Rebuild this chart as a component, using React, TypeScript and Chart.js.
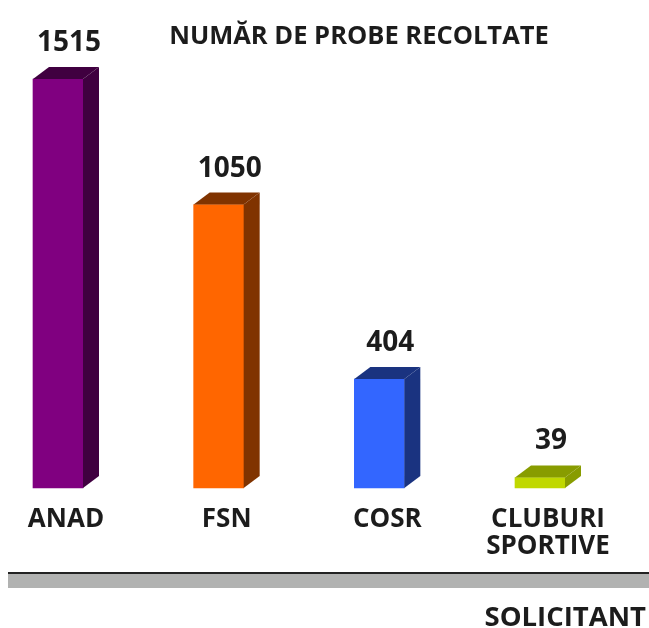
import React, { useEffect, useRef } from "react";
import { Chart, registerables } from "chart.js";

Chart.register(...registerables);

const categories: (string | string[])[] = ["ANAD", "FSN", "COSR", ["CLUBURI", "SPORTIVE"]];
const values: number[] = [1515, 1050, 404, 39];
const frontColors: string[] = ["#800080", "#FF6600", "#3366FF", "#C0D800"];
const darkColors: string[] = ["#400040", "#803300", "#1A3380", "#889C00"];
const chartTitle = "NUMĂR DE PROBE RECOLTATE";
const axisTitle = "SOLICITANT";

const FONT = "'Open Sans', 'DejaVu Sans', sans-serif";
const TEXT = "#1c1c1c";
const DX = 16;
const DY = 12;

const bar3dPlugin = {
  id: "bar3d",
  beforeDraw(chart: any) {
    const ctx = chart.ctx;
    ctx.save();
    ctx.fillStyle = "#B1B2B1";
    ctx.fillRect(8, 573, chart.width - 8, 15);
    ctx.fillStyle = "#222222";
    ctx.fillRect(8, 572, chart.width - 8, 2);
    ctx.restore();
  },
  afterDatasetsDraw(chart: any) {
    const ctx = chart.ctx;
    const meta = chart.getDatasetMeta(0);
    ctx.save();
    meta.data.forEach((el: any, i: number) => {
      const { x, y, base, width } = el.getProps(["x", "y", "base", "width"], true);
      const l = x - width / 2;
      const r = x + width / 2;
      ctx.fillStyle = darkColors[i];
      // side face
      ctx.beginPath();
      ctx.moveTo(r, y);
      ctx.lineTo(r + DX, y - DY);
      ctx.lineTo(r + DX, base - DY);
      ctx.lineTo(r, base);
      ctx.closePath();
      ctx.fill();
      // top face
      ctx.beginPath();
      ctx.moveTo(l, y);
      ctx.lineTo(l + DX, y - DY);
      ctx.lineTo(r + DX, y - DY);
      ctx.lineTo(r, y);
      ctx.closePath();
      ctx.fill();
      // value label
      ctx.fillStyle = TEXT;
      ctx.font = `bold 28px ${FONT}`;
      ctx.textAlign = "center";
      ctx.textBaseline = "alphabetic";
      ctx.fillText(String(values[i]), x + 11, y - DY - 16);
    });
    // titles
    ctx.fillStyle = TEXT;
    ctx.font = `bold 25.5px ${FONT}`;
    ctx.textAlign = "center";
    ctx.textBaseline = "alphabetic";
    ctx.fillText(chartTitle, 359, 44);
    ctx.font = `bold 27.5px ${FONT}`;
    ctx.textAlign = "right";
    ctx.fillText(axisTitle, 646, 626);
    ctx.restore();
  },
};

export default function App() {
  const ref = useRef<HTMLCanvasElement | null>(null);
  useEffect(() => {
    if (!ref.current) return;
    const chart = new Chart(ref.current, {
      type: "bar",
      data: {
        labels: categories,
        datasets: [
          {
            data: values,
            backgroundColor: frontColors,
            borderWidth: 0,
            barThickness: 50,
            clip: false as any,
          },
        ],
      },
      options: {
        animation: false,
        responsive: false,
        maintainAspectRatio: false,
        layout: { padding: { left: 58, right: 109, top: 0, bottom: 0 } },
        plugins: {
          legend: { display: false },
          title: { display: false },
          tooltip: { enabled: false },
        },
        scales: {
          x: {
            offset: false,
            grid: { display: false, drawTicks: false },
            border: { display: false },
            ticks: {
              color: TEXT,
              font: { family: FONT, size: 26, weight: "bold", lineHeight: 1.05 },
              padding: 18,
              labelOffset: 8,
              maxRotation: 0,
              autoSkip: false,
            },
            afterFit(scale: any) {
              scale.height = 140;
            },
          },
          y: {
            display: false,
            min: 0,
            max: 1808,
          },
        },
      },
      plugins: [bar3dPlugin],
    });
    return () => chart.destroy();
  }, []);
  return (
    <div style={{ position: "fixed", left: 0, top: 0, width: 649, height: 628, background: "#fff" }}>
      <canvas ref={ref} width={649} height={628} style={{ display: "block" }} />
    </div>
  );
}
